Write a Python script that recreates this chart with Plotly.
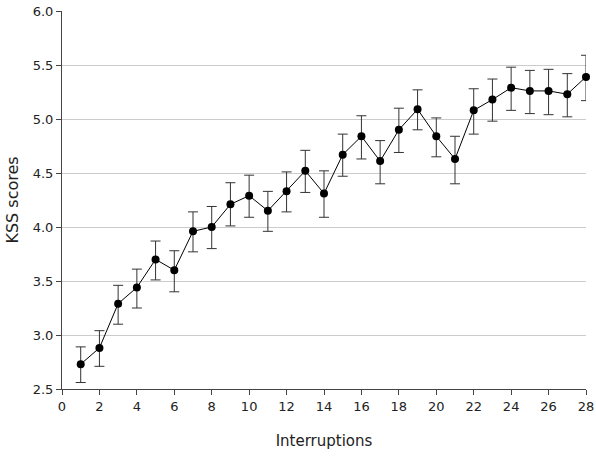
import plotly.graph_objects as go

interruptions = list(range(1, 29))
kss_mean = [2.73, 2.88, 3.29, 3.44, 3.70, 3.60, 3.96, 4.00, 4.21, 4.29,
            4.15, 4.33, 4.52, 4.31, 4.67, 4.84, 4.61, 4.90, 5.09, 4.84,
            4.63, 5.08, 5.18, 5.29, 5.26, 5.26, 5.23, 5.39]
err_upper = [2.89, 3.04, 3.46, 3.61, 3.87, 3.78, 4.14, 4.19, 4.41, 4.48,
             4.33, 4.51, 4.71, 4.52, 4.86, 5.03, 4.80, 5.10, 5.27, 5.01,
             4.84, 5.28, 5.37, 5.48, 5.45, 5.46, 5.42, 5.59]
err_lower = [2.56, 2.71, 3.10, 3.25, 3.51, 3.40, 3.77, 3.80, 4.01, 4.09,
             3.96, 4.14, 4.32, 4.09, 4.47, 4.63, 4.40, 4.69, 4.90, 4.65,
             4.40, 4.86, 4.98, 5.08, 5.05, 5.04, 5.02, 5.17]

plus = [u - m for u, m in zip(err_upper, kss_mean)]
minus = [m - l for m, l in zip(kss_mean, err_lower)]

fig = go.Figure()
fig.add_trace(go.Scatter(
    x=interruptions, y=kss_mean, mode="lines+markers",
    line=dict(color="black", width=1),
    marker=dict(color="black", size=8),
    error_y=dict(type="data", symmetric=False, array=plus, arrayminus=minus,
                 color="#333333", thickness=1, width=5),
    showlegend=False, cliponaxis=False,
))

font_family = "DejaVu Sans, sans-serif"
fig.update_layout(
    width=596, height=456,
    margin=dict(l=62, r=10, t=11, b=67),
    paper_bgcolor="white", plot_bgcolor="white",
    font=dict(family=font_family, size=13, color="#222222"),
    xaxis=dict(
        range=[0, 28], tickmode="array", tickvals=list(range(0, 29, 2)),
        showgrid=False, zeroline=False, automargin=False,
        showline=True, linecolor="#444444", linewidth=1,
        ticks="outside", ticklen=5, tickcolor="#444444",
        title=dict(text="Interruptions", font=dict(size=15), standoff=22),
    ),
    yaxis=dict(
        range=[2.5, 6.0], tickmode="array",
        tickvals=[2.5, 3.0, 3.5, 4.0, 4.5, 5.0, 5.5, 6.0],
        ticktext=["2.5", "3.0", "3.5", "4.0", "4.5", "5.0", "5.5", "6.0"],
        showgrid=True, gridcolor="#cccccc", gridwidth=1, zeroline=False,
        automargin=False,
        showline=True, linecolor="#444444", linewidth=1,
        ticks="outside", ticklen=5, tickcolor="#444444",
        title=dict(text="KSS scores", font=dict(size=16), standoff=10),
    ),
)

fig.write_html("out.html")
